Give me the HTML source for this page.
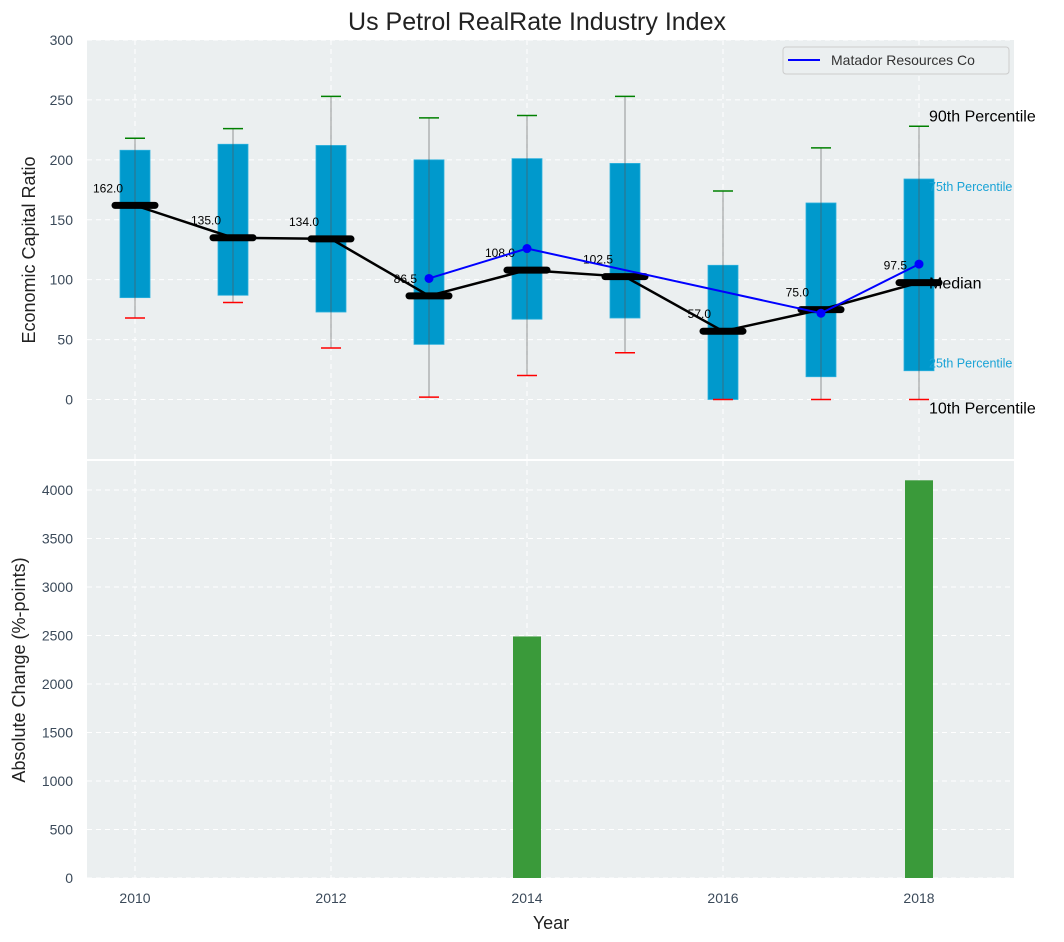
<!DOCTYPE html>
<html><head><meta charset="utf-8"><style>
body{margin:0;background:#fff;}
svg{display:block;font-family:"Liberation Sans","DejaVu Sans",sans-serif;}
</style></head><body>
<svg id="chart" width="1064" height="942" xmlns="http://www.w3.org/2000/svg">
<text x="537" y="30" font-size="25" text-anchor="middle" fill="#222">Us Petrol RealRate Industry Index</text>
<rect x="87" y="40" width="927" height="419" fill="#ebeff0"/>
<rect x="87" y="461" width="927" height="417" fill="#ebeff0"/>
<g id="gtop"></g><g id="gbot"></g>
<text x="35" y="250" font-size="18" fill="#222" text-anchor="middle" transform="rotate(-90 35 250)">Economic Capital Ratio</text>
<text x="25" y="670" font-size="18" fill="#222" text-anchor="middle" transform="rotate(-90 25 670)">Absolute Change (%-points)</text>
<text x="551" y="929" font-size="18" fill="#222" text-anchor="middle">Year</text>
<g>
<rect x="783" y="47" width="226" height="27" rx="3" fill="#ebeff0" stroke="#ccc"/>
<line x1="788" y1="60" x2="820" y2="60" stroke="#0000ff" stroke-width="2"/>
<text x="831" y="65" font-size="14" fill="#333">Matador Resources Co</text>
</g>
</svg>
<script>
const years=[2010,2011,2012,2013,2014,2015,2016,2017,2018];
const p10=[68,81,43,2,20,39,0,0,0];
const q1=[85,87,73,46,67,68,0,19,24];
const med=[162,135,134,86.5,108,102.5,57,75,97.5];
const q3=[208,213,212,200,201,197,112,164,184];
const p90=[218,226,253,235,237,253,174,210,228];
const matYears=[2013,2014,2017,2018];
const matVals=[101,126,72,113];
const barYears=[2014,2018];
const barVals=[2490,4100];
const yTicksTop=[0,50,100,150,200,250,300];
const yTicksBot=[0,500,1000,1500,2000,2500,3000,3500,4000];
const xTicks=[2010,2012,2014,2016,2018];

const NS="http://www.w3.org/2000/svg";
const X=v=>135+(v-2010)*98;
const Yt=v=>399.5-v*1.1983;
const Yb=v=>878-v*0.0970;
function mk(par,tag,at,txt){const e=document.createElementNS(NS,tag);for(const k in at)e.setAttribute(k,at[k]);if(txt!=null)e.textContent=txt;par.appendChild(e);return e;}
const gTop=document.getElementById('gtop'),gBot=document.getElementById('gbot');
for(const t of yTicksTop){
 const g=mk(gTop,'line',{x1:87,x2:1014,y1:Yt(t),y2:Yt(t),stroke:'#fff','stroke-dasharray':'5,4','stroke-width':1});
 
 
 const l=mk(gTop,'text',{x:73,y:Yt(t)+5,'font-size':14,fill:'#3b4a5a','text-anchor':'end'},t);
 
 
}
for(const t of yTicksBot){
 const g=mk(gBot,'line',{x1:87,x2:1014,y1:Yb(t),y2:Yb(t),stroke:'#fff','stroke-dasharray':'5,4','stroke-width':1});
 
 
 const l=mk(gBot,'text',{x:73,y:Yb(t)+5,'font-size':14,fill:'#3b4a5a','text-anchor':'end'},t);
 
 
}
for(const t of xTicks){
 const g1=mk(gTop,'line',{x1:X(t),x2:X(t),y1:40,y2:459,stroke:'#fff','stroke-dasharray':'5,4'});
 
 
 const g2=mk(gBot,'line',{x1:X(t),x2:X(t),y1:461,y2:878,stroke:'#fff','stroke-dasharray':'5,4'});
 
 
 const l=mk(gBot,'text',{x:X(t),y:903,'font-size':14,fill:'#3b4a5a','text-anchor':'middle'},t);
 
 
}
years.forEach((y,i)=>{
 const x=X(y);
 const b=mk(gTop,'rect',{x:x-15,y:Yt(q3[i]),width:30,height:Yt(q1[i])-Yt(q3[i]),fill:'#0099cc',stroke:'#2bb0dd','stroke-width':0.8});
 
 
 const w=mk(gTop,'line',{x1:x,x2:x,y1:Yt(p90[i]),y2:Yt(p10[i]),stroke:'#555','stroke-opacity':0.6,'stroke-width':1});
 
 
 const c1=mk(gTop,'line',{x1:x-10,x2:x+10,y1:Yt(p90[i]),y2:Yt(p90[i]),stroke:'#008000','stroke-width':1.5});
 
 
 const c2=mk(gTop,'line',{x1:x-10,x2:x+10,y1:Yt(p10[i]),y2:Yt(p10[i]),stroke:'#ff0000','stroke-width':1.5});
 
 
});
const ml=mk(gTop,'polyline',{points:years.map((y,i)=>X(y)+','+Yt(med[i])).join(' '),fill:'none',stroke:'#000','stroke-width':2.5});


years.forEach((y,i)=>{
 const m=mk(gTop,'line',{x1:X(y)-20,x2:X(y)+20,y1:Yt(med[i]),y2:Yt(med[i]),stroke:'#000','stroke-width':7,'stroke-linecap':'round'});
 
 
 const t=mk(gTop,'text',{x:X(y)-12,y:Yt(med[i])-13,'font-size':12,fill:'#000','text-anchor':'end'},med[i].toFixed(1));
 
 
});
const mt=mk(gTop,'polyline',{points:matYears.map((y,i)=>X(y)+','+Yt(matVals[i])).join(' '),fill:'none',stroke:'#0000ff','stroke-width':2});


matYears.forEach((y,i)=>{
 const c=mk(gTop,'circle',{cx:X(y),cy:Yt(matVals[i]),r:4.5,fill:'#0000ff'});
 
 
});
const L=years.length-1,xl=X(years[L]);
const ann=[['90th Percentile',p90[L],16,'#000',10],['75th Percentile',q3[L],12.5,'#1aa3d6',-7],['Median',med[L],16,'#000',-1],['25th Percentile',q1[L],12.5,'#1aa3d6',8],['10th Percentile',p10[L],16,'#000',-9]];
for(const a of ann){
 const t=mk(gTop,'text',{x:xl+10,y:Yt(a[1])-a[4]+5,'font-size':a[2],fill:a[3]},a[0]);
 
 
}
barYears.forEach((y,i)=>{
 const r=mk(gBot,'rect',{x:X(y)-14,y:Yb(barVals[i]),width:28,height:878-Yb(barVals[i]),fill:'#3a9a3a'});
 
 
});
</script>
</body></html>
